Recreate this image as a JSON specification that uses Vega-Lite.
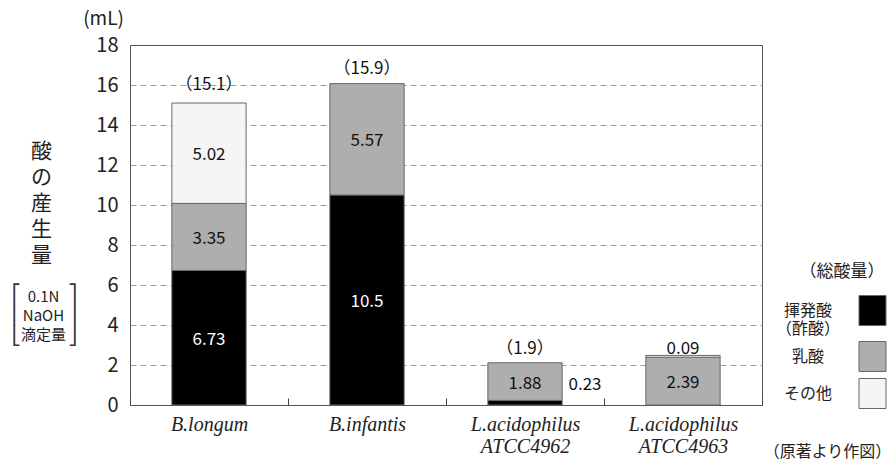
{
  "$schema": "https://vega.github.io/schema/vega-lite/v6.json",
  "width": 632,
  "height": 360,
  "autosize": {"type": "none"},
  "padding": {"left": 130, "top": 45, "right": 128, "bottom": 58},
  "background": "white",
  "config": {
    "font": "Noto Sans CJK JP",
    "view": {"stroke": "#555", "strokeWidth": 1},
    "axis": {"labelColor": "#222", "titleColor": "#222", "titleFontWeight": "normal", "titleFont": "Noto Sans CJK JP"},
    "legend": {"titleFontWeight": "normal", "labelColor": "#222", "titleColor": "#222"}
  },
  "datasets": {
    "acid": [
      {"strain": "B.longum", "component": "揮発酸（酢酸）", "value": 6.73},
      {"strain": "B.longum", "component": "乳酸", "value": 3.35},
      {"strain": "B.longum", "component": "その他", "value": 5.02},
      {"strain": "B.infantis", "component": "揮発酸（酢酸）", "value": 10.5},
      {"strain": "B.infantis", "component": "乳酸", "value": 5.57},
      {"strain": "L.acidophilus ATCC4962", "component": "揮発酸（酢酸）", "value": 0.23},
      {"strain": "L.acidophilus ATCC4962", "component": "乳酸", "value": 1.88},
      {"strain": "L.acidophilus ATCC4963", "component": "乳酸", "value": 2.39},
      {"strain": "L.acidophilus ATCC4963", "component": "その他", "value": 0.09}
    ],
    "totals": [
      {"strain": "B.longum", "total": 15.1, "label": "（15.1）"},
      {"strain": "B.infantis", "total": 15.9, "label": "（15.9）"},
      {"strain": "L.acidophilus ATCC4962", "total": 1.9, "label": "（1.9）"}
    ]
  },
  "data": {"name": "acid"},
  "transform": [
    {"stack": "value", "groupby": ["strain"], "sort": [{"field": "component", "order": "descending"}], "as": ["v0", "v1"]},
    {"calculate": "(datum.v0 + datum.v1) / 2", "as": "mid"}
  ],
  "layer": [
    {
      "mark": {"type": "bar", "width": {"band": 0.47}, "stroke": "#666", "strokeWidth": 1},
      "encoding": {
        "x": {
          "field": "strain", "type": "nominal",
          "scale": {"domain": ["B.longum", "B.infantis", "L.acidophilus ATCC4962", "L.acidophilus ATCC4963"], "paddingInner": 0, "paddingOuter": 0},
          "axis": {
            "title": "（原著より作図）", "titleX": 697, "titleY": 46, "titleAlign": "center", "titleBaseline": "middle", "titleFontSize": 16,
            "labelExpr": "split(datum.label, ' ')", "labelFont": "Liberation Serif", "labelFontStyle": "italic", "labelFontSize": 20,
            "labelLineHeight": 22, "labelPadding": 16, "labelAngle": 0, "ticks": true, "tickSize": -7, "tickWidth": 1, "tickBand": "extent",
            "tickColor": "#444", "domain": false, "grid": false
          }
        },
        "y": {
          "field": "v1", "type": "quantitative",
          "scale": {"domain": [0, 18], "nice": false},
          "axis": {
            "title": "(mL)", "titleX": -27, "titleY": -27, "titleAngle": 0, "titleAlign": "center", "titleBaseline": "middle", "titleFontSize": 19,
            "values": [0, 2, 4, 6, 8, 10, 12, 14, 16, 18], "labelFontSize": 20, "labelPadding": 12, "ticks": false, "domain": false,
            "grid": true, "gridDash": [6, 4], "gridColor": "#999",
            "gridOpacity": {"condition": {"test": "datum.value == 0 || datum.value == 18", "value": 0}, "value": 1}
          }
        },
        "y2": {"field": "v0"},
        "color": {
          "field": "component", "type": "nominal",
          "scale": {"domain": ["揮発酸（酢酸）", "乳酸", "その他"], "range": ["#000000", "#aeaeae", "#f5f5f5"]},
          "legend": {
            "orient": "none", "legendX": 665, "legendY": 219, "title": "（総酸量）", "titleFontSize": 17, "titleAnchor": "middle", "titlePadding": 14,
            "symbolType": "M-0.9,-1H0.9V1H-0.9Z", "symbolSize": 900, "symbolStrokeColor": "#666", "symbolStrokeWidth": 1,
            "symbolOffset": 62, "labelAlign": "center", "labelOffset": -80, "labelFontSize": 16, "labelLineHeight": 18, "rowPadding": 2,
            "labelExpr": "datum.label == '揮発酸（酢酸）' ? ['揮発酸', '（酢酸）'] : datum.label",
            "encode": {"symbols": {"update": {"stroke": {"value": "#666"}, "strokeWidth": {"value": 1}}}}
          }
        }
      }
    },
    {
      "transform": [{"filter": "datum.value >= 0.3"}],
      "mark": {"type": "text", "fontSize": 17, "dy": 2},
      "encoding": {
        "x": {"field": "strain", "type": "nominal"},
        "y": {
          "field": "mid", "type": "quantitative", "scale": {"domain": [0, 18], "nice": false},
          "axis": {"orient": "left", "title": ["酸", "の", "産", "生", "量"], "titleX": -89, "titleY": 95, "titleAngle": 0, "titleAlign": "center",
            "titleBaseline": "top", "titleFontSize": 21, "titleLineHeight": 26, "labels": false, "ticks": false, "domain": false, "grid": false}
        },
        "text": {"field": "value", "type": "nominal"},
        "color": {"condition": {"test": "datum.component === '揮発酸（酢酸）'", "value": "white"}, "value": "#111"}
      }
    },
    {
      "data": {"name": "totals"},
      "mark": {"type": "text", "fontSize": 17, "dy": -18, "color": "#111"},
      "encoding": {
        "x": {"field": "strain", "type": "nominal"},
        "y": {
          "field": "total", "type": "quantitative", "scale": {"domain": [0, 18], "nice": false},
          "axis": {"orient": "left", "title": ["0.1N", "NaOH", "滴定量"], "titleX": -87, "titleY": 244, "titleAngle": 0, "titleAlign": "center",
            "titleBaseline": "top", "titleFontSize": 15, "titleLineHeight": 19, "labels": false, "ticks": false, "domain": false, "grid": false}
        },
        "text": {"field": "label", "type": "nominal"}
      }
    },
    {
      "transform": [{"filter": "datum.value < 0.3 && datum.component === '揮発酸（酢酸）'"}],
      "mark": {"type": "text", "fontSize": 17, "dx": 60, "dy": -15, "color": "#111"},
      "encoding": {
        "x": {"field": "strain", "type": "nominal"},
        "y": {
          "field": "v1", "type": "quantitative", "scale": {"domain": [0, 18], "nice": false},
          "axis": {"orient": "left", "title": ["⎡", "⎢", "⎣"], "titleFont": "DejaVu Sans", "titleX": -114, "titleY": 240, "titleAngle": 0, "titleAlign": "center",
            "titleBaseline": "top", "titleFontSize": 18, "titleLineHeight": 21, "titleColor": "#333", "labels": false, "ticks": false, "domain": false, "grid": false}
        },
        "text": {"field": "value", "type": "nominal"}
      }
    },
    {
      "transform": [{"filter": "datum.value < 0.3 && datum.component === 'その他'"}],
      "mark": {"type": "text", "fontSize": 17, "dy": -6, "color": "#111"},
      "encoding": {
        "x": {"field": "strain", "type": "nominal"},
        "y": {
          "field": "v1", "type": "quantitative", "scale": {"domain": [0, 18], "nice": false},
          "axis": {"orient": "left", "title": ["⎤", "⎥", "⎦"], "titleFont": "DejaVu Sans", "titleX": -58, "titleY": 240, "titleAngle": 0, "titleAlign": "center",
            "titleBaseline": "top", "titleFontSize": 18, "titleLineHeight": 21, "titleColor": "#333", "labels": false, "ticks": false, "domain": false, "grid": false}
        },
        "text": {"field": "value", "type": "nominal"}
      }
    }
  ],
  "resolve": {"scale": {"y": "independent"}}
}
